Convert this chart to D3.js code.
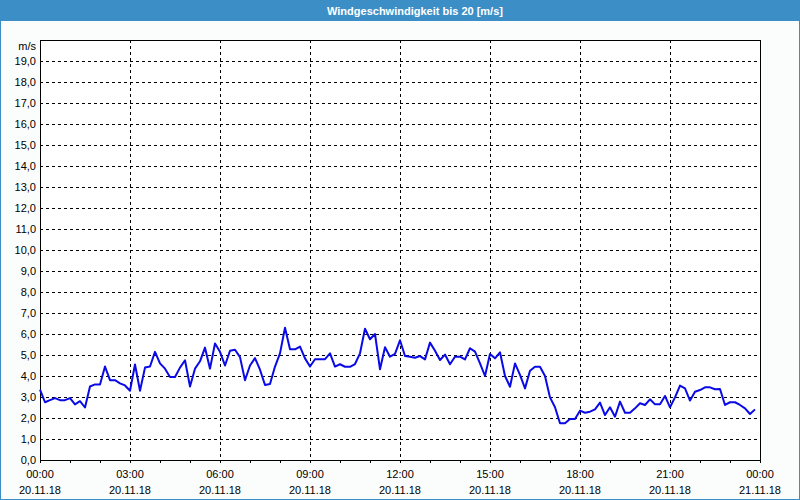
<!DOCTYPE html>
<html>
<head>
<meta charset="utf-8">
<script src="https://cdn.jsdelivr.net/npm/d3@7"></script>
<style>
  html, body { margin: 0; padding: 0; background: #fbfdfc; }
  svg { display: block; }
</style>
</head>
<body>
<svg id="chart"></svg>
<script>
const chartTitle = "Windgeschwindigkeit bis 20 [m/s]";
const unitLabel = "m/s";
const startTime = new Date(2018, 10, 20, 0, 0);
const endTime = new Date(2018, 10, 21, 0, 0);
const stepMinutes = 10;
// wind speed every 10 minutes, 20.11.18 00:00 .. 23:50
const windSpeed = [
  3.35, 2.75, 2.85, 2.95, 2.85, 2.85, 2.95, 2.65, 2.8, 2.5,
  3.5, 3.6, 3.6, 4.45, 3.8, 3.8, 3.65, 3.55, 3.3, 4.55,
  3.3, 4.4, 4.45, 5.15, 4.6, 4.35, 3.95, 3.95, 4.4, 4.75,
  3.5, 4.35, 4.7, 5.35, 4.35, 5.55, 5.15, 4.5, 5.2, 5.25,
  4.9, 3.8, 4.5, 4.85, 4.3, 3.57, 3.62, 4.45, 5.08, 6.3,
  5.27, 5.27, 5.4, 4.84, 4.45, 4.8, 4.8, 4.8, 5.08, 4.45,
  4.56, 4.44, 4.44, 4.57, 5.08, 6.25, 5.75, 6.0, 4.32, 5.37,
  4.92, 5.05, 5.7, 4.95, 4.92, 4.87, 4.95, 4.79, 5.59, 5.2,
  4.76, 5.02, 4.56, 4.92, 4.92, 4.79, 5.32, 5.16, 4.6, 4.0,
  5.05, 4.84, 5.13, 4.0, 3.49, 4.6, 4.05, 3.41, 4.25, 4.44,
  4.44, 4.0, 2.98, 2.51, 1.75, 1.75, 1.95, 1.95, 2.35, 2.25,
  2.3, 2.41, 2.73, 2.14, 2.51, 2.06, 2.78, 2.25, 2.25, 2.46,
  2.7, 2.62, 2.89, 2.65, 2.65, 3.05, 2.51, 2.98, 3.54, 3.41,
  2.83, 3.25, 3.33, 3.46, 3.46, 3.37, 3.38, 2.62, 2.75, 2.75,
  2.62, 2.46, 2.19, 2.41
];
const yTicks = d3.range(0, 20, 1);

const width = 800, height = 500;
const margin = { top: 40, right: 40, bottom: 40, left: 40 };
const fontFamily = "'Liberation Sans', Arial, sans-serif";

const data = windSpeed.map((v, i) => ({
  t: new Date(startTime.getTime() + i * stepMinutes * 60000),
  v: v
}));

const svg = d3.select("#chart")
  .attr("width", width)
  .attr("height", height);

// frame + title bar
svg.append("rect")
  .attr("x", 0.5).attr("y", 0.5)
  .attr("width", width - 1).attr("height", height - 1)
  .attr("fill", "#fbfdfc")
  .attr("stroke", "#3c8fc6");
svg.append("rect")
  .attr("x", 0).attr("y", 0)
  .attr("width", width).attr("height", 21)
  .attr("fill", "#3c8fc6");
svg.append("text")
  .attr("x", width / 2 + 15)
  .attr("y", 15)
  .attr("text-anchor", "middle")
  .attr("font-family", fontFamily)
  .attr("font-size", "11px")
  .attr("font-weight", "bold")
  .attr("fill", "#ffffff")
  .text(chartTitle);

const x = d3.scaleTime()
  .domain([startTime, endTime])
  .range([margin.left, width - margin.right]);
const y = d3.scaleLinear()
  .domain([0, 20])
  .range([height - margin.bottom, margin.top]);

svg.append("rect")
  .attr("x", margin.left).attr("y", margin.top)
  .attr("width", width - margin.left - margin.right)
  .attr("height", height - margin.top - margin.bottom)
  .attr("fill", "#ffffff");

const grid = svg.append("g")
  .attr("stroke", "#000")
  .attr("stroke-width", 1)
  .attr("stroke-dasharray", "3,3")
  .attr("shape-rendering", "crispEdges");
grid.selectAll(".hgrid")
  .data(yTicks.filter(d => d > 0))
  .join("line")
  .attr("class", "hgrid")
  .attr("x1", margin.left).attr("x2", width - margin.right)
  .attr("y1", d => Math.round(y(d)) + 0.5)
  .attr("y2", d => Math.round(y(d)) + 0.5);
const majorTimes = d3.timeHour.every(3).range(startTime, d3.timeMinute.offset(endTime, 1));
grid.selectAll(".vgrid")
  .data(majorTimes.filter(d => d > startTime && d < endTime))
  .join("line")
  .attr("class", "vgrid")
  .attr("x1", d => Math.round(x(d)) + 0.5)
  .attr("x2", d => Math.round(x(d)) + 0.5)
  .attr("y1", margin.top)
  .attr("y2", height - margin.bottom + 3);

// x axis: hourly ticks, labels every 3 hours
const xAxis = d3.axisBottom(x)
  .ticks(d3.timeHour.every(1))
  .tickSize(3)
  .tickFormat("");
svg.append("g")
  .attr("transform", `translate(0,${height - margin.bottom})`)
  .call(xAxis)
  .call(g => g.select(".domain").remove())
  .call(g => g.selectAll("line").attr("stroke", "#000").attr("shape-rendering", "crispEdges"));

const fmtTime = d3.timeFormat("%H:%M");
const fmtDate = d3.timeFormat("%d.%m.%y");
const xLabels = svg.append("g")
  .attr("font-family", fontFamily)
  .attr("font-size", "11px")
  .attr("fill", "#000")
  .attr("text-anchor", "middle");
xLabels.selectAll(".tl")
  .data(majorTimes)
  .join("text")
  .attr("class", "tl")
  .attr("x", d => x(d))
  .attr("y", height - margin.bottom + 18)
  .text(d => fmtTime(d));
xLabels.selectAll(".dl")
  .data(majorTimes)
  .join("text")
  .attr("class", "dl")
  .attr("x", d => x(d))
  .attr("y", height - margin.bottom + 34)
  .text(d => fmtDate(d));

// y axis labels
const yFmt = d => d.toFixed(1).replace(".", ",");
const yAxis = d3.axisLeft(y)
  .tickValues(yTicks)
  .tickSize(0)
  .tickPadding(4)
  .tickFormat(yFmt);
svg.append("g")
  .attr("transform", `translate(${margin.left},0)`)
  .call(yAxis)
  .call(g => g.select(".domain").remove())
  .call(g => g.selectAll("text")
    .attr("font-family", fontFamily)
    .attr("font-size", "11px")
    .attr("fill", "#000"));
svg.append("text")
  .attr("x", margin.left - 4)
  .attr("y", margin.top + 10)
  .attr("text-anchor", "end")
  .attr("font-family", fontFamily)
  .attr("font-size", "11px")
  .attr("fill", "#000")
  .text(unitLabel);

// plot border
svg.append("rect")
  .attr("x", margin.left + 0.5).attr("y", margin.top + 0.5)
  .attr("width", width - margin.left - margin.right)
  .attr("height", height - margin.top - margin.bottom)
  .attr("fill", "none")
  .attr("stroke", "#000")
  .attr("shape-rendering", "crispEdges");

// series
const line = d3.line()
  .x(d => x(d.t))
  .y(d => y(d.v));
svg.append("path")
  .datum(data)
  .attr("fill", "none")
  .attr("stroke", "#0a0ae6")
  .attr("stroke-width", 2)
  .attr("stroke-linejoin", "round")
  .attr("d", line);
</script>
</body>
</html>
